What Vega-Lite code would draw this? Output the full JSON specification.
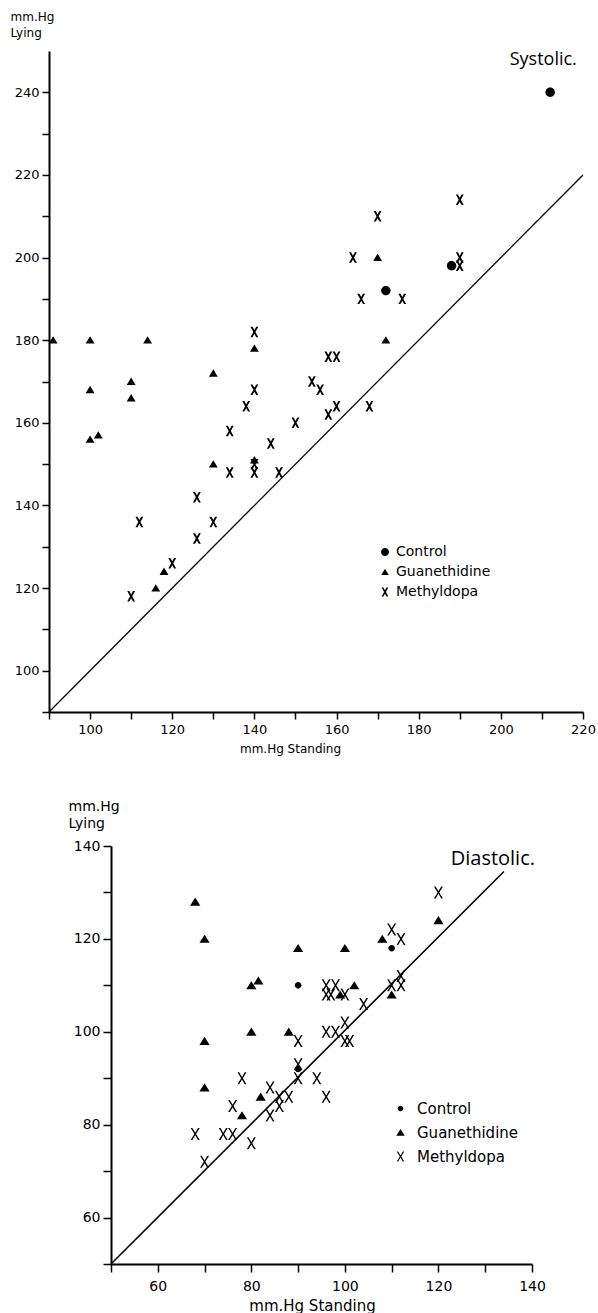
{
  "$schema": "https://vega.github.io/schema/vega-lite/v6.json",
  "padding": {"left": 10, "top": 10, "right": 5, "bottom": 0},
  "background": "white",
  "config": {
    "view": {"stroke": null},
    "font": "DejaVu Sans",
    "axis": {"grid": false, "domainColor": "black", "domainWidth": 2, "tickColor": "black", "tickWidth": 1.5, "labelColor": "black", "titleColor": "black", "labelFont": "DejaVu Sans", "titleFont": "DejaVu Sans", "titleFontWeight": "normal", "labelFlush": false, "labelOverlap": false, "labelBound": false},
    "legend": {"labelFont": "DejaVu Sans", "labelColor": "black"}
  },
  "datasets": {
    "systolic": [
      {"standing": 212, "lying": 240, "drug": "Control"},
      {"standing": 188, "lying": 198, "drug": "Control"},
      {"standing": 172, "lying": 192, "drug": "Control"},
      {"standing": 91, "lying": 180, "drug": "Guanethidine"},
      {"standing": 100, "lying": 180, "drug": "Guanethidine"},
      {"standing": 114, "lying": 180, "drug": "Guanethidine"},
      {"standing": 140, "lying": 178, "drug": "Guanethidine"},
      {"standing": 100, "lying": 168, "drug": "Guanethidine"},
      {"standing": 110, "lying": 170, "drug": "Guanethidine"},
      {"standing": 110, "lying": 166, "drug": "Guanethidine"},
      {"standing": 130, "lying": 172, "drug": "Guanethidine"},
      {"standing": 100, "lying": 156, "drug": "Guanethidine"},
      {"standing": 102, "lying": 157, "drug": "Guanethidine"},
      {"standing": 130, "lying": 150, "drug": "Guanethidine"},
      {"standing": 140, "lying": 151, "drug": "Guanethidine"},
      {"standing": 118, "lying": 124, "drug": "Guanethidine"},
      {"standing": 116, "lying": 120, "drug": "Guanethidine"},
      {"standing": 170, "lying": 200, "drug": "Guanethidine"},
      {"standing": 172, "lying": 180, "drug": "Guanethidine"},
      {"standing": 140, "lying": 182, "drug": "Methyldopa"},
      {"standing": 140, "lying": 168, "drug": "Methyldopa"},
      {"standing": 138, "lying": 164, "drug": "Methyldopa"},
      {"standing": 134, "lying": 158, "drug": "Methyldopa"},
      {"standing": 144, "lying": 155, "drug": "Methyldopa"},
      {"standing": 150, "lying": 160, "drug": "Methyldopa"},
      {"standing": 140, "lying": 150, "drug": "Methyldopa"},
      {"standing": 140, "lying": 148, "drug": "Methyldopa"},
      {"standing": 134, "lying": 148, "drug": "Methyldopa"},
      {"standing": 146, "lying": 148, "drug": "Methyldopa"},
      {"standing": 126, "lying": 142, "drug": "Methyldopa"},
      {"standing": 112, "lying": 136, "drug": "Methyldopa"},
      {"standing": 130, "lying": 136, "drug": "Methyldopa"},
      {"standing": 126, "lying": 132, "drug": "Methyldopa"},
      {"standing": 120, "lying": 126, "drug": "Methyldopa"},
      {"standing": 110, "lying": 118, "drug": "Methyldopa"},
      {"standing": 190, "lying": 214, "drug": "Methyldopa"},
      {"standing": 170, "lying": 210, "drug": "Methyldopa"},
      {"standing": 164, "lying": 200, "drug": "Methyldopa"},
      {"standing": 190, "lying": 200, "drug": "Methyldopa"},
      {"standing": 190, "lying": 198, "drug": "Methyldopa"},
      {"standing": 166, "lying": 190, "drug": "Methyldopa"},
      {"standing": 176, "lying": 190, "drug": "Methyldopa"},
      {"standing": 158, "lying": 176, "drug": "Methyldopa"},
      {"standing": 160, "lying": 176, "drug": "Methyldopa"},
      {"standing": 154, "lying": 170, "drug": "Methyldopa"},
      {"standing": 156, "lying": 168, "drug": "Methyldopa"},
      {"standing": 158, "lying": 162, "drug": "Methyldopa"},
      {"standing": 160, "lying": 164, "drug": "Methyldopa"},
      {"standing": 168, "lying": 164, "drug": "Methyldopa"}
    ],
    "diastolic": [
      {"standing": 90, "lying": 110, "drug": "Control"},
      {"standing": 90, "lying": 92, "drug": "Control"},
      {"standing": 110, "lying": 118, "drug": "Control"},
      {"standing": 68, "lying": 128, "drug": "Guanethidine"},
      {"standing": 70, "lying": 120, "drug": "Guanethidine"},
      {"standing": 90, "lying": 118, "drug": "Guanethidine"},
      {"standing": 100, "lying": 118, "drug": "Guanethidine"},
      {"standing": 80, "lying": 110, "drug": "Guanethidine"},
      {"standing": 81.5, "lying": 111, "drug": "Guanethidine"},
      {"standing": 80, "lying": 100, "drug": "Guanethidine"},
      {"standing": 88, "lying": 100, "drug": "Guanethidine"},
      {"standing": 70, "lying": 98, "drug": "Guanethidine"},
      {"standing": 70, "lying": 88, "drug": "Guanethidine"},
      {"standing": 82, "lying": 86, "drug": "Guanethidine"},
      {"standing": 78, "lying": 82, "drug": "Guanethidine"},
      {"standing": 102, "lying": 110, "drug": "Guanethidine"},
      {"standing": 99, "lying": 108, "drug": "Guanethidine"},
      {"standing": 110, "lying": 108, "drug": "Guanethidine"},
      {"standing": 108, "lying": 120, "drug": "Guanethidine"},
      {"standing": 120, "lying": 124, "drug": "Guanethidine"},
      {"standing": 120, "lying": 130, "drug": "Methyldopa"},
      {"standing": 110, "lying": 122, "drug": "Methyldopa"},
      {"standing": 112, "lying": 120, "drug": "Methyldopa"},
      {"standing": 96, "lying": 110, "drug": "Methyldopa"},
      {"standing": 98, "lying": 110, "drug": "Methyldopa"},
      {"standing": 96, "lying": 108, "drug": "Methyldopa"},
      {"standing": 97, "lying": 108, "drug": "Methyldopa"},
      {"standing": 100, "lying": 108, "drug": "Methyldopa"},
      {"standing": 104, "lying": 106, "drug": "Methyldopa"},
      {"standing": 110, "lying": 110, "drug": "Methyldopa"},
      {"standing": 112, "lying": 112, "drug": "Methyldopa"},
      {"standing": 112, "lying": 110, "drug": "Methyldopa"},
      {"standing": 96, "lying": 100, "drug": "Methyldopa"},
      {"standing": 98, "lying": 100, "drug": "Methyldopa"},
      {"standing": 100, "lying": 102, "drug": "Methyldopa"},
      {"standing": 100, "lying": 98, "drug": "Methyldopa"},
      {"standing": 101, "lying": 98, "drug": "Methyldopa"},
      {"standing": 90, "lying": 98, "drug": "Methyldopa"},
      {"standing": 90, "lying": 93, "drug": "Methyldopa"},
      {"standing": 90, "lying": 90, "drug": "Methyldopa"},
      {"standing": 94, "lying": 90, "drug": "Methyldopa"},
      {"standing": 96, "lying": 86, "drug": "Methyldopa"},
      {"standing": 86, "lying": 86, "drug": "Methyldopa"},
      {"standing": 88, "lying": 86, "drug": "Methyldopa"},
      {"standing": 84, "lying": 88, "drug": "Methyldopa"},
      {"standing": 78, "lying": 90, "drug": "Methyldopa"},
      {"standing": 76, "lying": 84, "drug": "Methyldopa"},
      {"standing": 86, "lying": 84, "drug": "Methyldopa"},
      {"standing": 84, "lying": 82, "drug": "Methyldopa"},
      {"standing": 68, "lying": 78, "drug": "Methyldopa"},
      {"standing": 74, "lying": 78, "drug": "Methyldopa"},
      {"standing": 76, "lying": 78, "drug": "Methyldopa"},
      {"standing": 80, "lying": 76, "drug": "Methyldopa"},
      {"standing": 70, "lying": 72, "drug": "Methyldopa"}
    ]
  },
  "spacing": 45,
  "resolve": {"scale": {"x": "independent", "y": "independent", "shape": "independent"}, "axis": {"x": "independent", "y": "independent"}, "legend": {"shape": "independent"}},
  "vconcat": [
    {
      "width": 534,
      "height": 661,
      "layer": [
        {
          "data": {"name": "systolic"},
          "mark": {"type": "point", "filled": true, "color": "black", "opacity": 1, "size": 110},
          "encoding": {
            "x": {"field": "standing", "type": "quantitative", "scale": {"domain": [90, 220], "nice": false, "zero": false},
              "axis": {"title": "mm.Hg Standing", "values": [90, 100, 110, 120, 130, 140, 150, 160, 170, 180, 190, 200, 210, 220], "labelExpr": "datum.value % 20 == 0 ? datum.label : ''", "tickSize": 7, "labelPadding": 4, "labelFontSize": 13, "titleFontSize": 12, "titleX": 241, "titleY": 31, "titleAlign": "center", "titleBaseline": "top"}},
            "y": {"field": "lying", "type": "quantitative", "scale": {"domain": [90, 250], "nice": false, "zero": false},
              "axis": {"title": ["mm.Hg", "Lying"], "values": [90, 100, 110, 120, 130, 140, 150, 160, 170, 180, 190, 200, 210, 220, 230, 240], "labelExpr": "datum.value % 20 == 0 ? datum.label : ''", "tickSize": 7, "labelPadding": 3, "labelFontSize": 13, "titleFontSize": 12, "titleAngle": 0, "titleAlign": "left", "titleBaseline": "top", "titleX": -39, "titleY": -40, "titleLineHeight": 16}},
            "shape": {"field": "drug", "type": "nominal",
              "scale": {"domain": ["Control", "Guanethidine", "Methyldopa"], "range": ["M-0.9,0A0.9,0.9 0 1,0 0.9,0A0.9,0.9 0 1,0 -0.9,0Z", "M0,-0.75L0.85,0.65L-0.85,0.65Z", "M-0.75,-1L-0.35,-1L0,-0.364L0.35,-1L0.75,-1L0.2,0L0.75,1L0.35,1L0,0.364L-0.35,1L-0.75,1L-0.2,0Z"]},
              "legend": {"orient": "none", "legendX": 329, "legendY": 494, "title": null, "symbolSize": 80, "symbolFillColor": "black", "symbolStrokeColor": "black", "symbolStrokeWidth": 0, "symbolOpacity": 1, "labelFontSize": 14, "rowPadding": 6, "labelOffset": 4, "padding": 0}}
          }
        },
        {
          "data": {"values": [{}]},
          "mark": {"type": "rule", "color": "black", "strokeWidth": 1.3},
          "encoding": {
            "x": {"datum": 90, "type": "quantitative", "scale": {"domain": [90, 220], "nice": false, "zero": false}},
            "y": {"datum": 90, "type": "quantitative", "scale": {"domain": [90, 250], "nice": false, "zero": false}},
            "x2": {"datum": 220},
            "y2": {"datum": 220}
          }
        },
        {
          "data": {"values": [{}]},
          "mark": {"type": "text", "text": "Systolic.", "align": "right", "baseline": "alphabetic", "font": "Open Sans", "fontSize": 18, "color": "black"},
          "encoding": {
            "x": {"datum": 218.5, "type": "quantitative", "scale": {"domain": [90, 220], "nice": false, "zero": false}},
            "y": {"datum": 246.5, "type": "quantitative", "scale": {"domain": [90, 250], "nice": false, "zero": false}}
          }
        }
      ]
    },
    {
      "spacing": 0,
      "hconcat": [
        {
          "width": 19,
          "height": 10,
          "data": {"values": [{}]},
          "mark": {"type": "point", "opacity": 0, "size": 0},
          "encoding": {}
        },
        {
          "width": 421,
          "height": 418,
          "layer": [
            {
              "data": {"name": "diastolic"},
              "mark": {"type": "point", "filled": true, "color": "black", "opacity": 1, "size": 144},
              "encoding": {
                "x": {"field": "standing", "type": "quantitative", "scale": {"domain": [50, 140], "nice": false, "zero": false},
                  "axis": {"title": "mm.Hg Standing", "values": [50, 60, 70, 80, 90, 100, 110, 120, 130, 140], "labelExpr": "datum.value % 20 == 0 ? datum.label : ''", "tickSize": 8, "labelPadding": 7, "labelFontSize": 14, "titleFontSize": 15, "titleX": 201, "titleY": 34, "titleAlign": "center", "titleBaseline": "top"}},
                "y": {"field": "lying", "type": "quantitative", "scale": {"domain": [50, 140], "nice": false, "zero": false},
                  "axis": {"title": ["mm.Hg", "Lying"], "values": [50, 60, 70, 80, 90, 100, 110, 120, 130, 140], "labelExpr": "datum.value % 20 == 0 ? datum.label : ''", "tickSize": 8, "labelPadding": 3, "labelFontSize": 14, "titleFontSize": 14, "titleAngle": 0, "titleAlign": "left", "titleBaseline": "top", "titleX": -43, "titleY": -47, "titleLineHeight": 17}},
                "shape": {"field": "drug", "type": "nominal",
                  "scale": {"domain": ["Control", "Guanethidine", "Methyldopa"], "range": ["M-0.55,0A0.55,0.55 0 1,0 0.55,0A0.55,0.55 0 1,0 -0.55,0Z", "M0,-0.7L0.85,0.65L-0.85,0.65Z", "M-0.75,-1L-0.47,-1L0,-0.22L0.47,-1L0.75,-1L0.14,0L0.75,1L0.47,1L0,0.22L-0.47,1L-0.75,1L-0.14,0Z"]},
                  "legend": {"orient": "none", "legendX": 344, "legendY": 255, "title": null, "symbolSize": 100, "symbolFillColor": "black", "symbolStrokeColor": "black", "symbolStrokeWidth": 0, "symbolOpacity": 1, "labelFontSize": 15, "rowPadding": 8, "labelOffset": 9, "padding": 0}}
              }
            },
            {
              "data": {"values": [{}]},
              "mark": {"type": "rule", "color": "black", "strokeWidth": 1.6},
              "encoding": {
                "x": {"datum": 50, "type": "quantitative", "scale": {"domain": [50, 140], "nice": false, "zero": false}},
                "y": {"datum": 50, "type": "quantitative", "scale": {"domain": [50, 140], "nice": false, "zero": false}},
                "x2": {"datum": 134},
                "y2": {"datum": 134.5}
              }
            },
            {
              "data": {"values": [{}]},
              "mark": {"type": "text", "text": "Diastolic.", "align": "right", "baseline": "alphabetic", "font": "Open Sans", "fontSize": 20, "color": "black", "dx": 3},
              "encoding": {
                "x": {"datum": 140, "type": "quantitative", "scale": {"domain": [50, 140], "nice": false, "zero": false}},
                "y": {"datum": 136, "type": "quantitative", "scale": {"domain": [50, 140], "nice": false, "zero": false}}
              }
            }
          ]
        }
      ]
    }
  ]
}
